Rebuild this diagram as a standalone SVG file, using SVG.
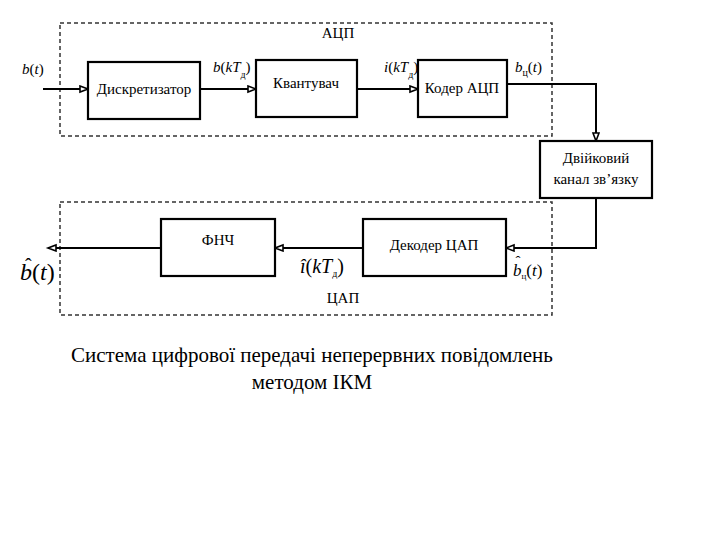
<svg xmlns="http://www.w3.org/2000/svg" width="720" height="540" viewBox="0 0 720 540">
<style>
.box{fill:#fff;stroke:#000;stroke-width:2.2}
.dash{fill:none;stroke:#333;stroke-width:1.5;stroke-dasharray:4 3}
.wire{fill:none;stroke:#000;stroke-width:2}
.m{font-style:italic}
</style>
<defs>
<marker id="arr" markerUnits="userSpaceOnUse" markerWidth="12" markerHeight="10" refX="9" refY="4" orient="auto">
<path d="M1,1 L9,4 L1,7 z" fill="#fff" stroke="#000" stroke-width="1.6"/>
</marker>
</defs>
<rect width="720" height="540" fill="#fff"/>
<g id="adc">
<rect class="dash" x="60" y="23" width="492" height="113"/>
<text font-family="Liberation Serif, serif" font-size="15" text-anchor="middle" x="338" y="38">АЦП</text>
</g>
<g id="dac">
<rect class="dash" x="60" y="202" width="492" height="113"/>
<text font-family="Liberation Serif, serif" font-size="15" text-anchor="middle" x="343" y="303">ЦАП</text>
</g>
<g id="connectors">
<path class="wire" d="M43,89 H88" marker-end="url(#arr)"/>
<path class="wire" d="M200,89 H256" marker-end="url(#arr)"/>
<path class="wire" d="M357,89 H418" marker-end="url(#arr)"/>
<path class="wire" d="M507,84 H596 V141" marker-end="url(#arr)"/>
<path class="wire" d="M596,198 V248 H506" marker-end="url(#arr)"/>
<path class="wire" d="M363,248 H275" marker-end="url(#arr)"/>
<path class="wire" d="M161,248 H48" marker-end="url(#arr)"/>
</g>
<g id="sampler">
<rect class="box" x="88" y="62" width="112" height="57"/>
<text font-family="Liberation Serif, serif" font-size="15" text-anchor="middle" x="144" y="94">Дискретизатор</text>
</g>
<g id="quantizer">
<rect class="box" x="256" y="60" width="101" height="57"/>
<text font-family="Liberation Serif, serif" font-size="15" text-anchor="middle" x="306" y="88">Квантувач</text>
</g>
<g id="coder">
<rect class="box" x="418" y="60" width="89" height="57"/>
<text font-family="Liberation Serif, serif" font-size="15" text-anchor="middle" x="462" y="93">Кодер АЦП</text>
</g>
<g id="channel">
<rect class="box" x="540" y="141" width="112" height="57"/>
<text font-family="Liberation Serif, serif" font-size="15" text-anchor="middle" x="596" y="163">Двійковий</text>
<text font-family="Liberation Serif, serif" font-size="15" text-anchor="middle" x="596" y="184">канал зв’язку</text>
</g>
<g id="decoder">
<rect class="box" x="363" y="219" width="143" height="57"/>
<text font-family="Liberation Serif, serif" font-size="15" text-anchor="middle" x="434" y="250">Декодер ЦАП</text>
</g>
<g id="lpf">
<rect class="box" x="161" y="219" width="114" height="57"/>
<text font-family="Liberation Serif, serif" font-size="15" text-anchor="middle" x="218" y="245">ФНЧ</text>
</g>
<g id="labels">
<text font-family="Liberation Serif, serif" x="22" y="74" font-size="15"><tspan class="m">b</tspan>(<tspan class="m">t</tspan>)</text>
<text font-family="Liberation Serif, serif" x="213" y="72" font-size="15"><tspan class="m">b</tspan>(<tspan class="m">kT</tspan><tspan font-size="10" dy="6">д</tspan><tspan dy="-6">)</tspan></text>
<text font-family="Liberation Serif, serif" x="384" y="72" font-size="15"><tspan class="m">i</tspan>(<tspan class="m">kT</tspan><tspan font-size="10" dy="6">д</tspan><tspan dy="-6">)</tspan></text>
<text font-family="Liberation Serif, serif" x="515" y="72" font-size="15"><tspan class="m">b</tspan><tspan font-size="10" dy="4">ц</tspan><tspan dy="-4">(</tspan><tspan class="m">t</tspan>)</text>
<text font-family="Liberation Serif, serif" font-size="24"><tspan class="m" x="20" y="280">b</tspan><tspan x="25" y="273" font-size="20">ˆ</tspan><tspan x="32" y="280">(</tspan><tspan class="m">t</tspan>)</text>
<text font-family="Liberation Serif, serif" x="300" y="273" font-size="20"><tspan class="m">î</tspan>(<tspan class="m">kT</tspan><tspan font-size="10" dy="4">д</tspan><tspan dy="-4">)</tspan></text>
<text font-family="Liberation Serif, serif" font-size="17"><tspan class="m" x="513" y="276">b</tspan><tspan x="515.5" y="266" font-size="15">ˆ</tspan><tspan x="521.5" y="279" font-size="9">ц</tspan><tspan y="276">(</tspan><tspan class="m">t</tspan>)</text>
</g>
<g id="caption">
<text font-family="Liberation Serif, serif" x="312" y="362" font-size="21" text-anchor="middle">Система цифрової передачі неперервних повідомлень</text>
<text font-family="Liberation Serif, serif" x="312" y="389" font-size="21" text-anchor="middle">методом ІКМ</text>
</g>
</svg>
